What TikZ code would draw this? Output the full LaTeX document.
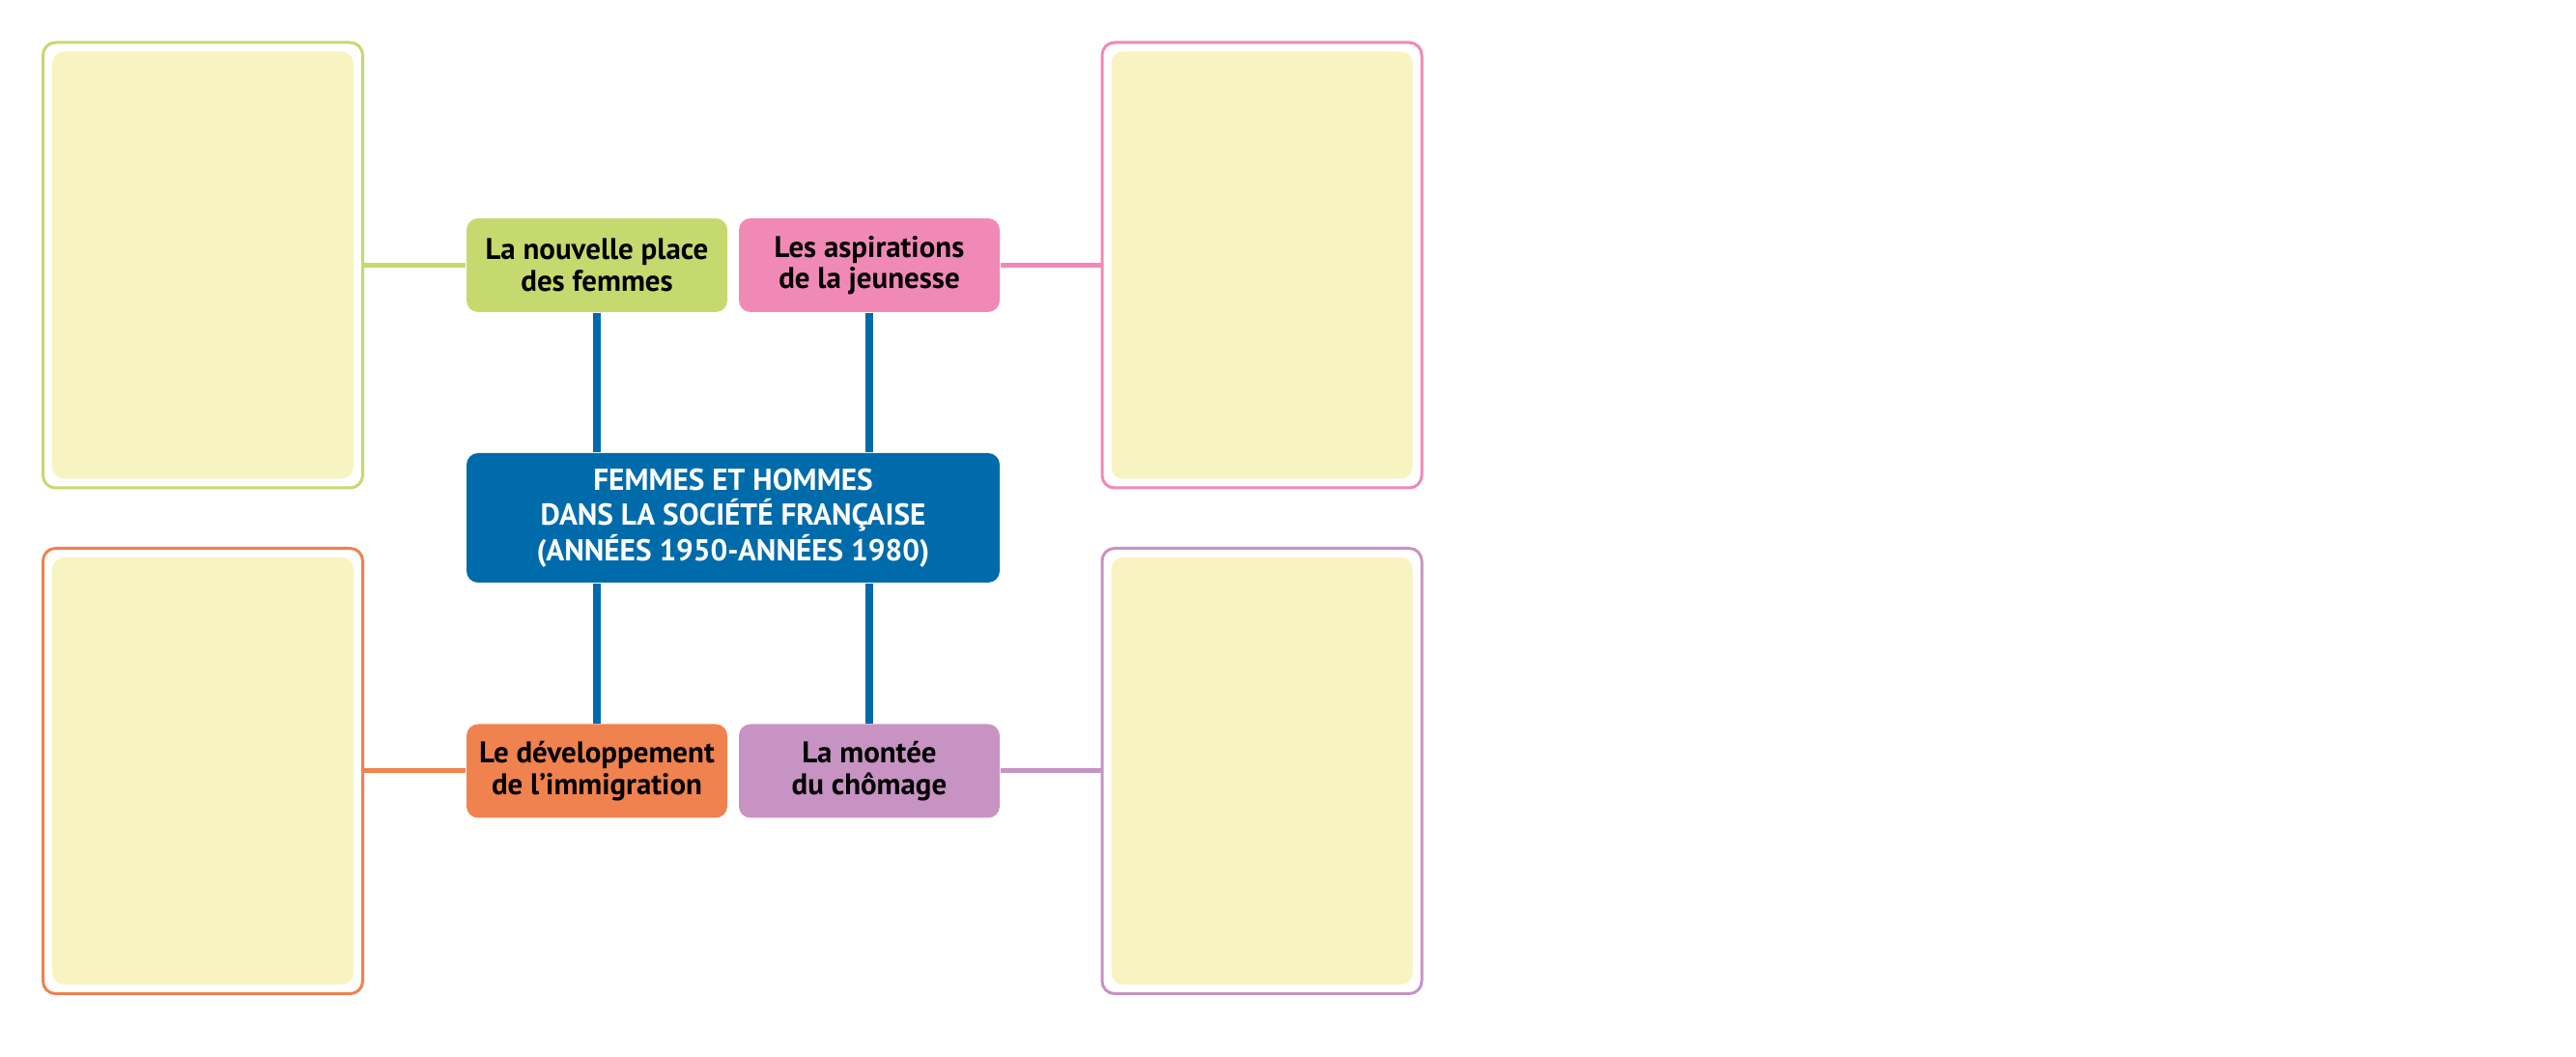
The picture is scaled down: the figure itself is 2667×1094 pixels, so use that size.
\documentclass[tikz,border=0pt]{standalone}
\usepackage{fontspec}
\setmainfont{PT Sans}
\usetikzlibrary{positioning}

\definecolor{vertclair}{HTML}{C6D96F}
\definecolor{rose}{HTML}{F189B6}
\definecolor{orange}{HTML}{F0824F}
\definecolor{mauve}{HTML}{C793C3}
\definecolor{bleu}{HTML}{006BAA}
\definecolor{jaune}{HTML}{F7F4C1}

\begin{document}
\begin{tikzpicture}[
    x=0.1mm, y=-0.1mm,
    theme/.style={rectangle, rounded corners=1.2mm, minimum width=2.7cm, minimum height=0.97cm, align=center, font=\bfseries\fontsize{8.8}{9.2}\selectfont, text=black},
    centre/.style={rectangle, rounded corners=1.2mm, fill=bleu, minimum width=5.52cm, minimum height=1.34cm, align=center, text=white, font=\bfseries\fontsize{8.9}{10.4}\selectfont},
    cadre/.style={rectangle, draw, line width=0.3mm, rounded corners=1.3mm, minimum width=3.31cm, minimum height=4.61cm},
    fond/.style={rectangle, fill=jaune, rounded corners=1.2mm, minimum width=3.12cm, minimum height=4.42cm},
    tige/.style={bleu, line width=0.8mm},
    lien/.style={line width=0.5mm}
]

\path[use as bounding box] (0,0) rectangle (2667,1094);

% boites de reponse
\node (cadreA) [cadre, draw=vertclair] at (210,274.5) {};
\node (fondA) [fond] at (210,274.5) {};
\node (cadreB) [cadre, draw=rose] at (1306.5,274.5) {};
\node (fondB) [fond] at (1306.5,274.5) {};
\node (cadreC) [cadre, draw=orange] at (210,798) {};
\node (fondC) [fond] at (210,798) {};
\node (cadreD) [cadre, draw=mauve] at (1306.5,798) {};
\node (fondD) [fond] at (1306.5,798) {};

% themes
\node (femmes) [theme, fill=vertclair] at (618,274.5) {La nouvelle place\\des femmes};
\node (jeunesse) [theme, fill=rose] at (900,274.5) {Les aspirations\\de la jeunesse};
\node (sujet) [centre] at (759,536) {FEMMES ET HOMMES\\DANS LA SOCIÉTÉ FRANÇAISE\\(ANNÉES 1950-ANNÉES 1980)};
\node (immigration) [theme, fill=orange] at (618,798) {Le développement\\de l’immigration};
\node (chomage) [theme, fill=mauve] at (900,798) {La montée\\du chômage};

\draw[tige] (femmes.south) -- (femmes.south |- sujet.north);
\draw[tige] (jeunesse.south) -- (jeunesse.south |- sujet.north);
\draw[tige] (immigration.north) -- (immigration.north |- sujet.south);
\draw[tige] (chomage.north) -- (chomage.north |- sujet.south);

\draw[lien, vertclair] (cadreA.east) -- (femmes.west);
\draw[lien, rose] (jeunesse.east) -- (cadreB.west);
\draw[lien, orange] (cadreC.east) -- (immigration.west);
\draw[lien, mauve] (chomage.east) -- (cadreD.west);

\end{tikzpicture}
\end{document}
